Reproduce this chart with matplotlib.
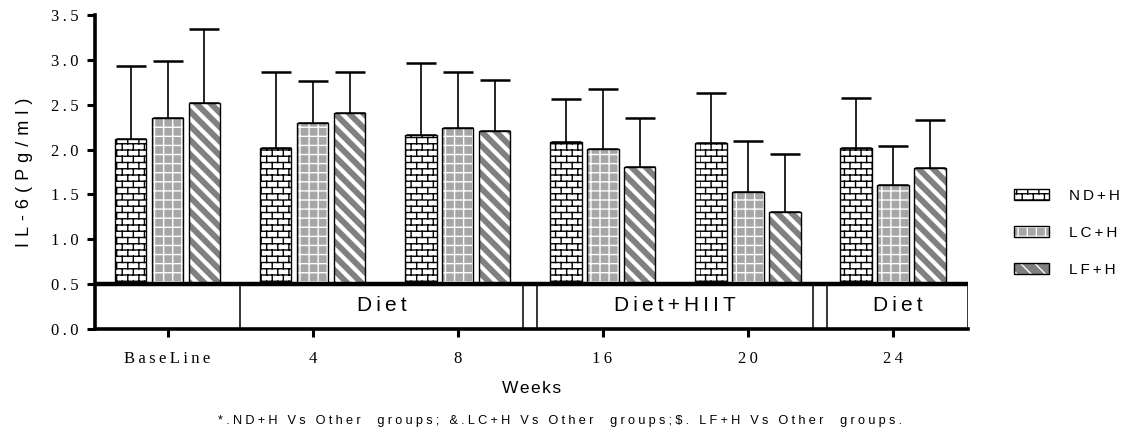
import numpy as np
import matplotlib
matplotlib.use('Agg')
import matplotlib.pyplot as plt
import matplotlib.hatch as mhatch
from matplotlib.path import Path
from matplotlib.patches import Patch
from matplotlib.legend_handler import HandlerTuple
import warnings
warnings.filterwarnings('ignore')

# ---------------- data ----------------
categories = ['BaseLine', '4', '8', '16', '20', '24']
groups = ['ND+H', 'LC+H', 'LF+H']
nd_mean = [2.12, 2.02, 2.16, 2.08, 2.07, 2.02]
nd_top = [2.93, 2.87, 2.96, 2.56, 2.63, 2.57]
lc_mean = [2.35, 2.30, 2.24, 2.01, 1.53, 1.60]
lc_top = [2.99, 2.76, 2.86, 2.67, 2.10, 2.04]
lf_mean = [2.52, 2.41, 2.21, 1.81, 1.30, 1.80]
lf_top = [3.34, 2.87, 2.77, 2.35, 1.95, 2.33]
phase_labels = ['', 'Diet', '', 'Diet+HIIT', '', 'Diet']
phase_edges = [-0.5, 0.5, 2.45, 2.55, 4.45, 4.55, 5.52]
bar_base = 0.5
yticks = [0.0, 0.5, 1.0, 1.5, 2.0, 2.5, 3.0, 3.5]
footnote = '*.ND+H Vs Other  groups; &.LC+H Vs Other  groups;$. LF+H Vs Other  groups.'


# ---------------- custom hatches ----------------
class BrickHatch(mhatch.HatchPatternBase):
    def __init__(self, hatch, density):
        k = hatch.count('B')
        self.rows = 16 * k
        self.cols = 9 * k
        self.num_vertices = ((self.rows + 1) + self.rows * self.cols) * 2 if k else 0

    def set_vertices_and_codes(self, vertices, codes):
        v = []
        for i in range(self.rows + 1):
            y = i / self.rows
            v += [(0, y), (1, y)]
        for i in range(self.rows):
            y0, y1 = i / self.rows, (i + 1) / self.rows
            off = 0.5 if i % 2 else 0.0
            for j in range(self.cols):
                xx = (j + off) / self.cols
                v += [(xx, y0), (xx, y1)]
        vertices[:] = np.array(v)
        codes[0::2] = Path.MOVETO
        codes[1::2] = Path.LINETO


class StripeHatch(mhatch.HatchPatternBase):
    def __init__(self, hatch, density):
        k = hatch.count('S')
        self.m = 7 * k
        self.num_vertices = (2 * self.m + 1) * 2 if k else 0

    def set_vertices_and_codes(self, vertices, codes):
        c = np.arange(2 * self.m + 1) / self.m
        vertices[0::2, 0] = c - 1
        vertices[0::2, 1] = 1.0
        vertices[1::2, 0] = c
        vertices[1::2, 1] = 0.0
        codes[0::2] = Path.MOVETO
        codes[1::2] = Path.LINETO


class GridHatch(mhatch.HatchPatternBase):
    def __init__(self, hatch, density):
        k = hatch.count('G')
        self.n = 11 * k
        self.num_vertices = (self.n + 1) * 4 if k else 0

    def set_vertices_and_codes(self, vertices, codes):
        s = np.arange(self.n + 1) / self.n
        h = vertices[:2 * (self.n + 1)]
        h[0::2, 0] = 0.0
        h[0::2, 1] = s
        h[1::2, 0] = 1.0
        h[1::2, 1] = s
        w = vertices[2 * (self.n + 1):]
        w[0::2, 0] = s
        w[0::2, 1] = 0.0
        w[1::2, 0] = s
        w[1::2, 1] = 1.0
        codes[0::2] = Path.MOVETO
        codes[1::2] = Path.LINETO


mhatch._hatch_types.extend([BrickHatch, StripeHatch, GridHatch])


def set_hlw(patches, w):
    for p in patches:
        if hasattr(p, 'set_hatch_linewidth'):
            p.set_hatch_linewidth(w)


def sp(s, sep='\u2009'):
    return sep.join(list(s))


SANS = ['Liberation Sans', 'DejaVu Sans']
SERIF = ['Liberation Serif', 'DejaVu Serif']

# ---------------- figure ----------------
fig = plt.figure(figsize=(11.22, 4.37), dpi=100)
ax = fig.add_axes([95 / 1122, 1 - 329 / 437, (968 - 95) / 1122, (329 - 15) / 437])

x = np.arange(len(categories))
width = 0.22
offs = [-0.255, 0.0, 0.255]
LC_GRAY = '#a6a6a6'
LF_GRAY = '#808080'


def heights(m):
    return [v - bar_base for v in m]


def errs(m, t):
    return [[0] * len(m), [b - a for a, b in zip(m, t)]]


# ND+H : white with black bricks
with plt.rc_context({'hatch.linewidth': 1.0}):
    b1 = ax.bar(x + offs[0], heights(nd_mean), width, bottom=bar_base,
                facecolor='white', edgecolor='black', linewidth=1.0, hatch='B', zorder=3)
set_hlw(b1, 1.0)

# LC+H : grey with white grid
with plt.rc_context({'hatch.linewidth': 1.0}):
    b2 = ax.bar(x + offs[1], heights(lc_mean), width, bottom=bar_base,
                facecolor=LC_GRAY, edgecolor='white', linewidth=0, hatch='G', zorder=3)
set_hlw(b2, 1.0)
ax.bar(x + offs[1], heights(lc_mean), width, bottom=bar_base,
       fill=False, edgecolor='black', linewidth=1.0, zorder=4)

# LF+H : grey with white diagonal stripes
with plt.rc_context({'hatch.linewidth': 3.0}):
    b3 = ax.bar(x + offs[2], heights(lf_mean), width, bottom=bar_base,
                facecolor=LF_GRAY, edgecolor='white', linewidth=0, hatch='S', zorder=3)
set_hlw(b3, 3.0)
ax.bar(x + offs[2], heights(lf_mean), width, bottom=bar_base,
       fill=False, edgecolor='black', linewidth=1.0, zorder=4)

# error bars (upper only)
for o, m, t in zip(offs, [nd_mean, lc_mean, lf_mean], [nd_top, lc_top, lf_top]):
    ax.errorbar(x + o, m, yerr=errs(m, t), fmt='none', ecolor='black',
                elinewidth=1.2, capsize=11, capthick=1.8, zorder=2)

# phase boxes between 0 and 0.5
ax.axhline(bar_base, color='black', linewidth=3.2, zorder=5)
for e in phase_edges[1:]:
    ax.plot([e, e], [0, bar_base], color='black', linewidth=1.1, zorder=5,
            solid_capstyle='butt')
for lab, a, b in zip(phase_labels, phase_edges[:-1], phase_edges[1:]):
    if lab:
        ax.text((a + b) / 2, bar_base / 2 + 0.01, sp(lab), ha='center', va='center',
                fontsize=15, family=SANS, zorder=6)

ax.set_xlim(phase_edges[0], phase_edges[-1])
ax.set_ylim(0, 3.5)
ax.set_yticks(yticks)
ax.set_yticklabels([sp(f'{v:.1f}', '\u2009') for v in yticks], family=SERIF, fontsize=12)
ax.set_xticks(x)
ax.set_xticklabels([sp(c, '\u2009') for c in categories], family=SERIF, fontsize=12)

for s in ['top', 'right']:
    ax.spines[s].set_visible(False)
ax.spines['left'].set_linewidth(2.6)
ax.spines['bottom'].set_linewidth(2.6)
ax.tick_params(axis='both', width=2.2, length=6, direction='out')
ax.tick_params(axis='y', pad=6)
ax.tick_params(axis='x', pad=10)

ax.set_ylabel(sp('IL-6(Pg/ml)', '\u2004'), family=SANS, fontsize=13, labelpad=13)
ax.set_xlabel(sp('Weeks', '\u200a'), family=SANS, fontsize=12.5, labelpad=10)

fig.text(560 / 1122, 1 - 421 / 437, sp(footnote, '\u2005'), ha='center', va='center',
         family=SANS, fontsize=9.2)

# legend
h1 = Patch(facecolor='white', edgecolor='black', linewidth=1.0, hatch='B')
h2a = Patch(facecolor=LC_GRAY, edgecolor='white', linewidth=0, hatch='G')
h2b = Patch(fill=False, edgecolor='black', linewidth=1.0)
h3a = Patch(facecolor=LF_GRAY, edgecolor='white', linewidth=0, hatch='S')
h3b = Patch(fill=False, edgecolor='black', linewidth=1.0)
set_hlw([h1, h2a], 1.0)
set_hlw([h3a], 3.0)
leg = fig.legend([h1, (h2a, h2b), (h3a, h3b)], [sp(g) for g in groups],
                 handler_map={tuple: HandlerTuple(ndivide=1, pad=0)},
                 loc='center left', bbox_to_anchor=(1014 / 1122, 1 - 233 / 437),
                 frameon=False, handlelength=2.3, handleheight=0.75,
                 labelspacing=1.5, handletextpad=1.3, borderpad=0, borderaxespad=0,
                 prop={'family': SANS, 'size': 11})

fig.savefig('out.png', dpi=100)
